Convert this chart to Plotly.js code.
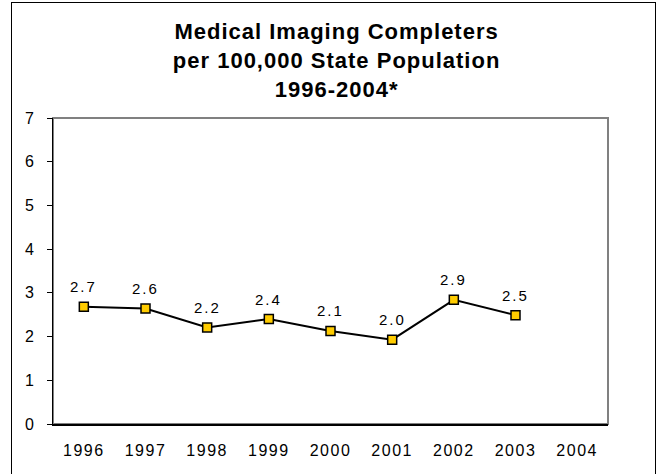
<!DOCTYPE html>
<html>
<head>
<meta charset="utf-8">
<script src="https://cdn.plot.ly/plotly-3.0.1.min.js"></script>
<style>
  body { margin: 0; background: #fff; }
  #frame { position: absolute; left: 11px; top: 2px; width: 643px; height: 480px; border: 1.5px solid #000; pointer-events: none; }
  #myDiv { position: absolute; left: 0; top: 0; width: 660px; height: 474px; }
  #myDiv .xtick text, #myDiv .ytick text { letter-spacing: 1.5px; }
  #myDiv .annotation-text { letter-spacing: 2px; }
  #myDiv .gtitle { letter-spacing: 1px; }
</style>
</head>
<body>
<div id="myDiv"></div>
<div id="frame"></div>
<script>
var years = ['1996', '1997', '1998', '1999', '2000', '2001', '2002', '2003', '2004'],
    rates = [2.68, 2.64, 2.21, 2.40, 2.13, 1.93, 2.84, 2.49, null],
    rateLabels = ['2.7', '2.6', '2.2', '2.4', '2.1', '2.0', '2.9', '2.5', ''];

var font = 'Liberation Sans, Arial, sans-serif';

var data = [{
  x: years, y: rates, type: 'scatter', mode: 'lines+markers',
  line: {color: '#000', width: 2},
  marker: {symbol: 'square', size: 9, color: '#FFCC00', line: {color: '#000', width: 1.5}},
  hoverinfo: 'x+y'
}];

// value labels above the points (category index on the x axis)
var notes = [];
for (var i = 0; i < years.length; i++) {
  if (rates[i] === null) continue;
  notes.push({x: i, y: rates[i], xref: 'x', yref: 'y', text: rateLabels[i], showarrow: false,
              yshift: 20, font: {family: font, size: 15, color: '#000'}});
}

var layout = {
  width: 660, height: 474,
  margin: {l: 53, r: 52, t: 118, b: 50},
  paper_bgcolor: 'rgba(0,0,0,0)', plot_bgcolor: '#fff',
  showlegend: false,
  title: {
    text: 'Medical Imaging Completers<br>per 100,000 State Population<br>1996-2004*',
    font: {family: font, size: 22, color: '#000', weight: 'bold'},
    x: 0.51, xanchor: 'center', yref: 'container', y: 0.917, yanchor: 'top'
  },
  xaxis: {
    type: 'category', range: [-0.5, 8.5], showgrid: false, zeroline: false,
    showline: true, linecolor: '#000', linewidth: 1.5, ticks: '',
    ticklabelstandoff: 11,
    tickfont: {family: font, size: 16, color: '#000'}, fixedrange: true
  },
  yaxis: {
    range: [0, 7], dtick: 1, showgrid: false, zeroline: false,
    showline: true, linecolor: '#000', linewidth: 1.5,
    ticks: 'outside', ticklen: 5, tickcolor: '#000', tickwidth: 1,
    ticklabelstandoff: 8,
    tickfont: {family: font, size: 16, color: '#000'}, fixedrange: true
  },
  shapes: [{type: 'rect', xref: 'paper', yref: 'paper', x0: 0, x1: 1, y0: 0, y1: 1,
            line: {color: '#808080', width: 2}, layer: 'below'}],
  annotations: notes
};

Plotly.newPlot('myDiv', data, layout, {displayModeBar: false, staticPlot: true});
</script>
</body>
</html>
